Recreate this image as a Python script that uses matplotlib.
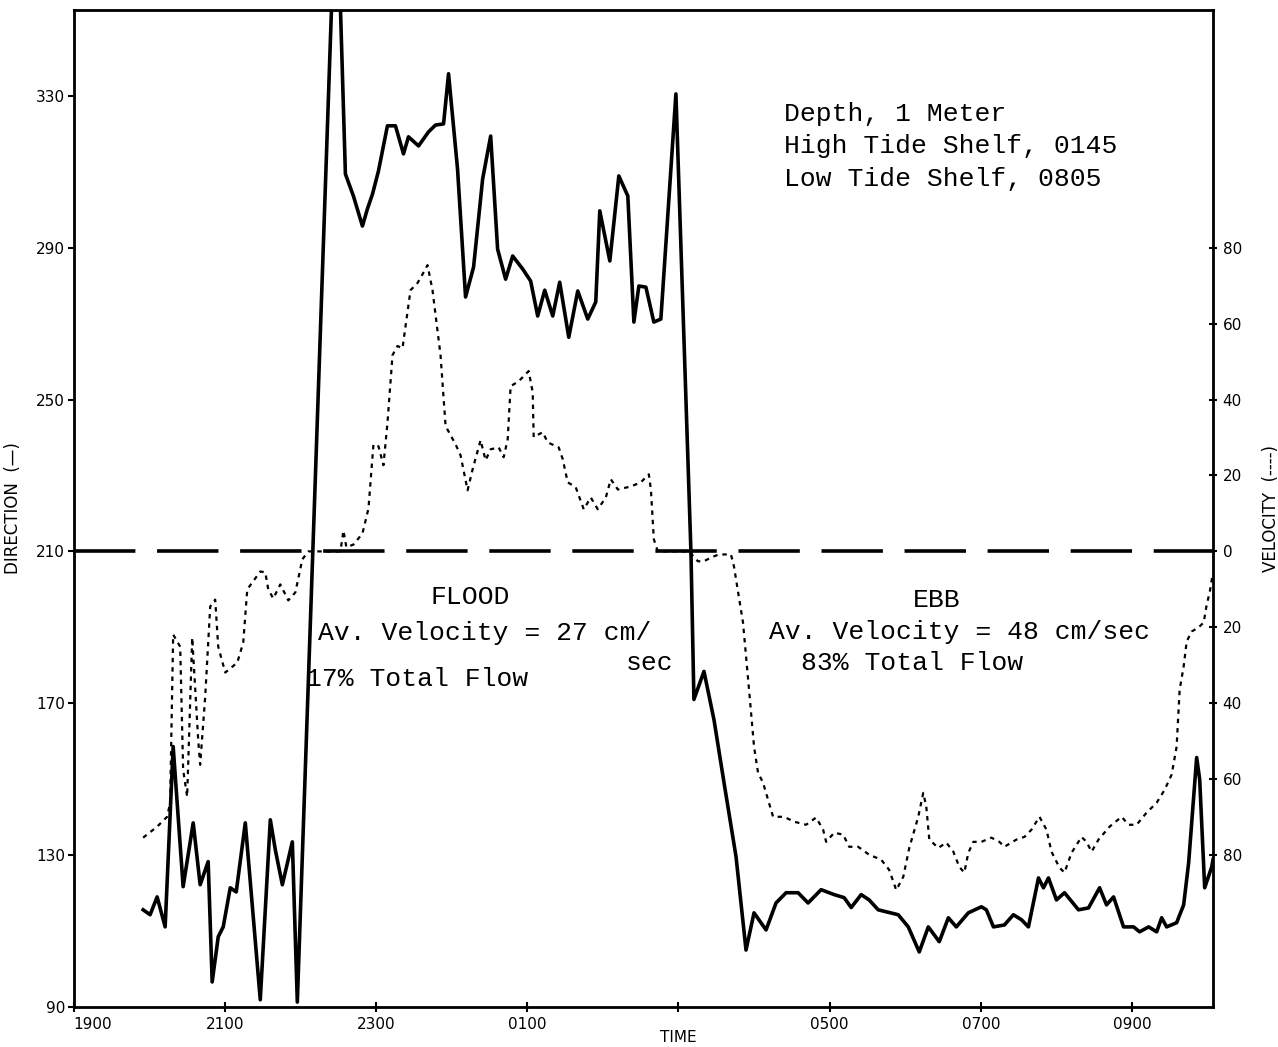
import matplotlib
matplotlib.use("Agg")
import matplotlib.pyplot as plt
import numpy as np

# time in hours after 1900
dir_time = [0.921, 1.013, 1.106, 1.212, 1.318, 1.450, 1.583, 1.675, 1.781, 1.834,
            1.914, 1.980, 2.073, 2.152, 2.272, 2.470, 2.603, 2.669, 2.762, 2.894,
            2.960, 3.424, 3.520, 3.596, 3.702, 3.821, 3.887, 3.954, 4.033, 4.152,
            4.258, 4.364, 4.430, 4.563, 4.695, 4.788, 4.894, 4.960, 5.079, 5.185,
            5.291, 5.411, 5.517, 5.609, 5.715, 5.808, 5.940, 6.046, 6.139, 6.232,
            6.338, 6.430, 6.550, 6.669, 6.801, 6.907, 6.960, 7.093, 7.212, 7.331,
            7.411, 7.477, 7.570, 7.675, 7.768, 7.967, 8.166, 8.205, 8.338, 8.470,
            8.603, 8.762, 8.894, 9.000, 9.159, 9.291, 9.424, 9.583, 9.715, 9.887,
            10.060, 10.192, 10.285, 10.417, 10.523, 10.642, 10.907, 11.040, 11.185, 11.305,
            11.450, 11.570, 11.675, 11.834, 12.007, 12.073, 12.166, 12.311, 12.430, 12.536,
            12.629, 12.762, 12.828, 12.894, 13.000, 13.106, 13.291, 13.424, 13.570, 13.662,
            13.755, 13.887, 14.020, 14.099, 14.219, 14.325, 14.391, 14.457, 14.589, 14.682,
            14.748, 14.854, 14.894, 14.960, 15.053, 15.070]
direction = [115.6, 114.3, 119.0, 111.1, 158.6, 121.7, 138.5, 122.2, 128.3, 96.6,
             108.5, 111.1, 121.4, 120.3, 138.5, 91.9, 139.3, 131.4, 122.2, 133.5,
             91.3, 360.0, 360.0, 309.4, 303.6, 295.7, 300.2, 304.1, 310.2, 322.1,
             322.1, 314.7, 319.2, 316.8, 320.5, 322.3, 322.6, 335.8, 310.7, 277.0,
             284.9, 308.1, 319.4, 289.6, 281.7, 287.8, 284.4, 281.2, 272.0, 278.8,
             272.0, 280.9, 266.4, 278.6, 271.2, 275.7, 299.7, 286.5, 308.9, 303.6,
             270.4, 279.9, 279.6, 270.4, 271.2, 330.5, 209.7, 171.0, 178.4, 165.7,
             149.1, 129.6, 105.0, 114.8, 110.3, 117.4, 120.1, 120.1, 117.4, 120.9,
             119.6, 118.8, 116.2, 119.6, 118.2, 115.6, 114.3, 111.1, 104.5, 111.1,
             107.2, 113.5, 111.1, 114.8, 116.4, 115.6, 111.1, 111.6, 114.3, 113.0,
             111.1, 124.0, 121.4, 124.0, 118.2, 120.1, 115.6, 116.1, 121.4, 116.9,
             119.0, 111.1, 111.1, 109.8, 111.1, 109.8, 113.5, 111.1, 112.2, 116.9,
             128.0, 155.7, 149.9, 121.4, 126.9, 128.8]

# velocity: positive = flood, negative = ebb (plotted as magnitude on the axis)
vel_time = [0.921, 1.106, 1.238, 1.278, 1.318, 1.411, 1.450, 1.503, 1.570, 1.649,
            1.675, 1.742, 1.808, 1.874, 1.914, 2.007, 2.166, 2.245, 2.298, 2.470,
            2.536, 2.576, 2.642, 2.735, 2.841, 2.934, 3.026, 3.106, 3.530, 3.570,
            3.609, 3.702, 3.821, 3.901, 3.967, 4.033, 4.099, 4.152, 4.219, 4.285,
            4.351, 4.417, 4.457, 4.550, 4.616, 4.682, 4.748, 4.854, 4.921, 5.053,
            5.119, 5.212, 5.278, 5.384, 5.450, 5.517, 5.623, 5.689, 5.742, 5.781,
            5.887, 6.020, 6.073, 6.086, 6.205, 6.272, 6.417, 6.470, 6.536, 6.642,
            6.748, 6.841, 6.934, 7.040, 7.106, 7.199, 7.371, 7.503, 7.609, 7.636,
            7.675, 7.728, 8.139, 8.258, 8.338, 8.430, 8.536, 8.695, 8.735, 8.854,
            8.934, 9.000, 9.053, 9.119, 9.252, 9.397, 9.530, 9.689, 9.821, 9.914,
            9.954, 10.060, 10.179, 10.258, 10.377, 10.523, 10.682, 10.788, 10.881, 10.974,
            11.053, 11.172, 11.238, 11.278, 11.318, 11.437, 11.543, 11.636, 11.715, 11.781,
            11.834, 11.901, 12.007, 12.139, 12.245, 12.311, 12.470, 12.576, 12.669, 12.775,
            12.868, 12.934, 13.040, 13.106, 13.199, 13.331, 13.397, 13.464, 13.556, 13.702,
            13.861, 13.954, 14.060, 14.192, 14.325, 14.430, 14.523, 14.589, 14.629, 14.682,
            14.722, 14.788, 14.881, 14.947, 14.987, 15.026, 15.065]
velocity = [-75.4, -72.5, -69.9, -66.2, -21.9, -25.1, -57.5, -64.6, -22.7, -49.6,
            -56.2, -38.2, -14.5, -12.7, -25.1, -31.9, -29.3, -24.0, -10.0, -5.3,
            -5.5, -10.0, -12.4, -8.7, -12.9, -10.8, -2.1, 0.0, 0.0, 5.5,
            1.1, 1.8, 4.7, 11.3, 28.2, 27.7, 22.7, 33.8, 51.7, 54.1,
            53.5, 63.0, 68.8, 70.7, 73.0, 75.4, 68.8, 51.7, 33.0, 28.2,
            25.3, 16.1, 21.6, 29.3, 24.0, 26.9, 27.4, 24.8, 29.5, 43.5,
            44.8, 47.5, 41.9, 30.1, 31.4, 28.7, 27.4, 24.3, 18.2, 16.9,
            11.1, 14.2, 11.1, 14.2, 19.0, 16.3, 17.1, 18.2, 20.3, 16.3,
            3.2, 0.0, 0.0, -2.6, -2.6, -1.6, -0.8, -0.8, -4.0, -18.7,
            -36.4, -51.4, -58.3, -60.9, -69.9, -69.9, -71.2, -72.0, -70.1, -73.3,
            -76.5, -74.1, -74.6, -77.8, -77.8, -79.9, -81.2, -83.9, -89.2, -85.7,
            -78.1, -69.9, -63.6, -67.2, -75.9, -78.1, -76.7, -79.1, -83.1, -84.6,
            -79.4, -76.5, -76.5, -75.4, -76.5, -77.8, -75.9, -75.2, -73.3, -69.9,
            -73.3, -79.1, -83.3, -84.6, -79.4, -75.2, -76.5, -79.1, -75.9, -72.5,
            -69.9, -72.0, -72.0, -68.8, -66.2, -62.8, -58.8, -51.4, -36.4, -30.3,
            -23.7, -21.1, -20.0, -18.7, -14.0, -10.8, -6.1]

time_ticks = [0, 2, 4, 6, 8, 10, 12, 14]
time_labels = ['1900', '2100', '2300', '0100', '', '0500', '0700', '0900']
dir_ticks = [90, 130, 170, 210, 250, 290, 330]
vel_ticks = [-80, -60, -40, -20, 0, 20, 40, 60, 80]

mono = ['Liberation Mono', 'DejaVu Sans Mono']

fig = plt.figure(figsize=(12.78, 10.47), dpi=100)
ax = fig.add_axes([73.5 / 1278, 40 / 1047, (1213 - 73.5) / 1278, (1007 - 10) / 1047])

ax.plot(dir_time, direction, color='black', lw=2.6, solid_joinstyle='round')
ax.axhline(210, color='black', lw=2.6, linestyle=(0, (17, 6)))
ax.set_xlim(0, 15.07)
ax.set_ylim(90, 352.6)
ax.set_yticks(dir_ticks)
ax.set_yticklabels([str(v) for v in dir_ticks], fontsize=11)
ax.set_xticks(time_ticks)
ax.set_xticklabels(time_labels, fontsize=11)
ax.get_xticklabels()[0].set_ha('left')
ax.tick_params(axis='y', direction='out', length=4, width=1.5, pad=2)
ax.tick_params(axis='x', direction='inout', length=7, width=1.5, pad=4)
ax.set_ylabel('DIRECTION  (—)', fontsize=12, labelpad=10)
ax.text(8, -0.031, 'TIME', transform=ax.get_xaxis_transform(), ha='center', va='center', fontsize=11)
for s in ax.spines.values():
    s.set_linewidth(2)

ax2 = ax.twinx()
ax2.plot(vel_time, velocity, color='black', lw=1.6, linestyle=(0, (2, 2.2)))
ax2.set_ylim(90 - 210, 352.6 - 210)
ax2.set_yticks(vel_ticks)
ax2.set_yticklabels([str(abs(v)) for v in vel_ticks], fontsize=11)
ax2.tick_params(axis='y', direction='inout', length=6, width=1.5, pad=4)
ax2.set_ylabel('VELOCITY  (----)', fontsize=12, labelpad=14)

# annotations
ax.text(9.40, 325.2, 'Depth, 1 Meter', family=mono, fontsize=19, va='center')
ax.text(9.40, 316.8, 'High Tide Shelf, 0145', family=mono, fontsize=19, va='center')
ax.text(9.40, 308.1, 'Low Tide Shelf, 0805', family=mono, fontsize=19, va='center')

ax.text(5.25, 197.9, 'FLOOD', family=mono, fontsize=19, va='center', ha='center')
ax.text(3.24, 188.6, 'Av. Velocity = 27 cm/', family=mono, fontsize=19, va='center')
ax.text(7.30, 180.7, 'sec', family=mono, fontsize=19, va='center')
ax.text(3.07, 176.5, '17% Total Flow', family=mono, fontsize=19, va='center')

ax.text(11.41, 197.3, 'EBB', family=mono, fontsize=19, va='center', ha='center')
ax.text(9.20, 188.9, 'Av. Velocity = 48 cm/sec', family=mono, fontsize=19, va='center')
ax.text(9.62, 180.7, '83% Total Flow', family=mono, fontsize=19, va='center')

fig.savefig('out.png', dpi=100)
